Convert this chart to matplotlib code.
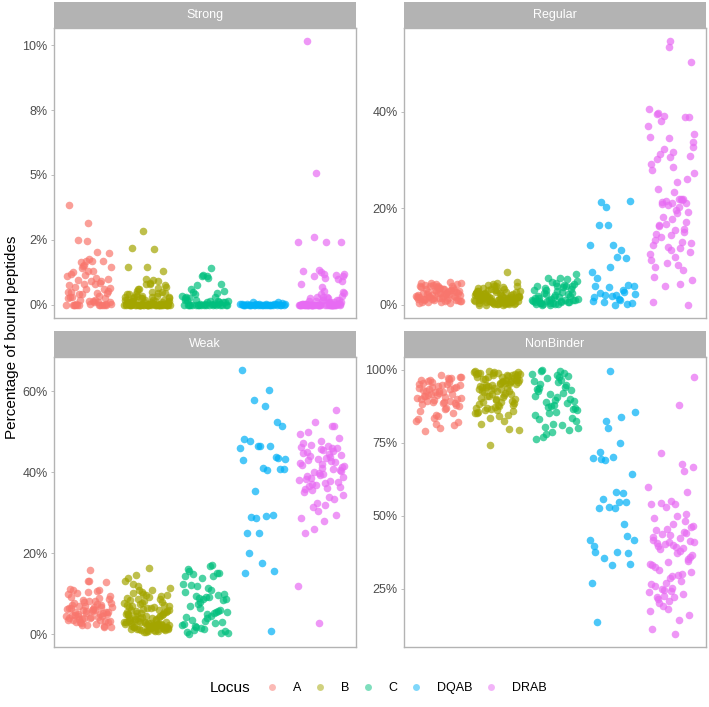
"""Jittered percentage of bound peptides per locus, faceted by binding class."""

import numpy as np
import matplotlib

matplotlib.use("Agg")
import matplotlib.pyplot as plt
from matplotlib.lines import Line2D

plt.rcParams["font.family"] = ["Liberation Sans", "DejaVu Sans"]

loci = ["A", "B", "C", "DQAB", "DRAB"]
locus_colors = ["#F8766D", "#A3A500", "#00BF7D", "#00B0F6", "#E76BF3"]
facets = ["Strong", "Regular", "Weak", "NonBinder"]

# values in percent
strong_A = [3.85, 3.15, 2.5, 2.45, 2.05, 2.0, 1.75, 1.7, 1.7, 1.7, 1.65, 1.55, 1.5, 1.45, 1.4,
            1.3, 1.3, 1.25, 1.2, 1.15, 1.1, 1.05, 1.0, 0.95, 0.9, 0.9, 0.85, 0.8, 0.8, 0.75,
            0.7, 0.65, 0.6, 0.6, 0.55, 0.5, 0.5, 0.45, 0.45, 0.4, 0.4, 0.35, 0.3, 0.3, 0.25,
            0.25, 0.2, 0.2, 0.15, 0.15, 0.1, 0.1, 0.1, 0.05, 0.05, 0.05, 0.05, 0, 0, 0, 0, 0,
            0, 0, 0, 0, 0, 0]
strong_B = [2.85, 2.2, 2.15, 1.45, 1.45, 1.3, 1.0, 0.95, 0.9, 0.85, 0.8, 0.8, 0.75, 0.7, 0.65,
            0.6, 0.6, 0.55, 0.5, 0.5, 0.45, 0.45, 0.4, 0.4, 0.4, 0.35, 0.35, 0.35, 0.3, 0.3,
            0.3, 0.3, 0.25, 0.25, 0.25, 0.25, 0.2, 0.2, 0.2, 0.2, 0.2, 0.15, 0.15, 0.15, 0.15,
            0.15, 0.1, 0.1, 0.1, 0.1, 0.1, 0.1, 0.05, 0.05, 0.05, 0.05, 0.05, 0.05, 0.05, 0, 0,
            0, 0, 0, 0, 0, 0, 0, 0, 0, 0, 0, 0, 0, 0, 0, 0, 0, 0, 0, 0, 0, 0, 0, 0, 0, 0, 0, 0,
            0, 0, 0, 0, 0, 0]
strong_C = [1.4, 1.15, 1.1, 1.1, 1.05, 0.8, 0.75, 0.6, 0.55, 0.5, 0.45, 0.4, 0.35, 0.3, 0.3,
            0.25, 0.25, 0.2, 0.2, 0.2, 0.15, 0.15, 0.15, 0.1, 0.1, 0.1, 0.1, 0.05, 0.05, 0.05,
            0.05, 0.05, 0, 0, 0, 0, 0, 0, 0, 0, 0, 0, 0, 0, 0, 0, 0, 0, 0, 0]
strong_DQAB = [0.1, 0.1, 0.08, 0.05, 0.05, 0.05, 0.04, 0.03, 0.03, 0.02, 0.02, 0.02, 0.01, 0.01,
               0, 0, 0, 0, 0, 0, 0, 0, 0, 0, 0, 0, 0, 0, 0, 0, 0, 0, 0, 0]
strong_DRAB = [10.15, 5.07, 2.6, 2.4, 2.4, 2.4, 1.35, 1.3, 1.25, 1.2, 1.2, 1.15, 1.1, 1.1, 1.05,
               1.0, 0.9, 0.8, 0.7, 0.55, 0.5, 0.45, 0.4, 0.35, 0.3, 0.3, 0.3, 0.25, 0.25, 0.2,
               0.2, 0.2, 0.15, 0.15, 0.15, 0.1, 0.1, 0.1, 0.1, 0.05, 0.05, 0.05, 0.05, 0.05,
               0.05, 0, 0, 0, 0, 0, 0, 0, 0, 0, 0, 0, 0, 0, 0, 0, 0, 0, 0, 0, 0, 0, 0, 0, 0, 0,
               0, 0, 0, 0, 0, 0, 0, 0, 0, 0, 0, 0, 0]

regular_A = [4.8, 4.6, 4.5, 4.5, 4.4, 4.3, 4.2, 4.1, 4.0, 4.0, 3.9, 3.8, 3.7, 3.6, 3.5, 3.5, 3.4,
             3.3, 3.2, 3.2, 3.1, 3.0, 3.0, 2.9, 2.8, 2.8, 2.7, 2.7, 2.6, 2.5, 2.5, 2.4, 2.4, 2.3,
             2.3, 2.2, 2.2, 2.1, 2.0, 2.0, 1.9, 1.9, 1.8, 1.8, 1.7, 1.7, 1.6, 1.6, 1.5, 1.5, 1.4,
             1.4, 1.3, 1.3, 1.2, 1.2, 1.1, 1.0, 1.0, 0.9, 0.9, 0.8, 0.8, 0.7, 0.6, 0.5, 0.5, 0.4,
             0.3]
regular_B = [6.9, 4.8, 4.6, 4.4, 4.2, 4.0, 3.9, 3.8, 3.6, 3.5, 3.4, 3.3, 3.2, 3.1, 3.0, 3.0, 2.9,
             2.8, 2.8, 2.7, 2.6, 2.6, 2.5, 2.5, 2.4, 2.4, 2.3, 2.3, 2.2, 2.2, 2.1, 2.1, 2.0, 2.0,
             1.9, 1.9, 1.8, 1.8, 1.8, 1.7, 1.7, 1.6, 1.6, 1.6, 1.5, 1.5, 1.5, 1.4, 1.4, 1.4, 1.3,
             1.3, 1.3, 1.2, 1.2, 1.2, 1.1, 1.1, 1.1, 1.0, 1.0, 1.0, 0.9, 0.9, 0.9, 0.8, 0.8, 0.8,
             0.7, 0.7, 0.7, 0.6, 0.6, 0.6, 0.5, 0.5, 0.5, 0.4, 0.4, 0.4, 0.3, 0.3, 0.3, 0.2, 0.2,
             0.2, 0.1, 0.1, 0.1, 0.0, 0.0, 0.0]
regular_C = [6.3, 5.6, 5.5, 5.3, 5.0, 4.8, 4.6, 4.4, 4.2, 4.0, 4.0, 4.0, 3.8, 3.6, 3.4, 3.2, 3.0,
             3.0, 2.8, 2.6, 2.5, 2.4, 2.3, 2.2, 2.0, 1.9, 1.8, 1.7, 1.6, 1.5, 1.4, 1.3, 1.2, 1.1,
             1.0, 1.0, 0.9, 0.9, 0.8, 0.8, 0.7, 0.7, 0.6, 0.6, 0.5, 0.5, 0.4, 0.4, 0.3, 0.3, 0.2,
             0.2, 0.1, 0.1, 0.0, 0.0]
regular_DQAB = [21.6, 21.2, 20.2, 16.6, 16.6, 12.4, 12.3, 11.4, 9.8, 9.6, 7.8, 6.9, 5.6, 4.1, 4.0,
                3.9, 3.6, 3.0, 2.7, 2.5, 2.3, 2.1, 2.0, 1.9, 1.6, 1.2, 1.0, 0.8, 0.5, 0.4, 0.2,
                0.0]
regular_DRAB = [54.6, 53.3, 50.2, 40.6, 39.8, 39.6, 39.2, 38.9, 38.8, 38.1, 37.1, 35.4, 34.7, 34.5,
                33.7, 32.6, 32.3, 31.6, 31.2, 30.9, 30.6, 30.1, 29.2, 28.5, 28.0, 27.2, 26.1, 25.4,
                23.9, 23.4, 22.0, 22.0, 22.0, 21.8, 21.5, 21.3, 21.1, 21.0, 20.9, 20.7, 20.3, 19.6,
                19.2, 19.0, 18.2, 17.7, 17.2, 16.8, 16.5, 16.3, 15.8, 15.5, 15.1, 14.6, 14.4, 14.1,
                13.4, 13.0, 12.7, 12.3, 12.0, 11.7, 11.4, 11.0, 10.5, 10.0, 9.3, 8.6, 8.2, 7.9,
                7.2, 5.8, 5.2, 4.3, 3.8, 0.5, 0.0]

weak_A = [15.8, 13.2, 13.1, 12.9, 11.2, 11.0, 10.8, 10.7, 10.5, 10.3, 10.0, 9.5, 9.2, 9.0, 8.8,
          8.5, 8.3, 8.2, 8.0, 7.8, 7.6, 7.5, 7.3, 7.2, 7.0, 6.9, 6.8, 6.7, 6.6, 6.5, 6.4, 6.3, 6.2,
          6.1, 6.0, 5.9, 5.8, 5.7, 5.6, 5.5, 5.4, 5.3, 5.2, 5.1, 5.0, 4.9, 4.8, 4.7, 4.6, 4.5, 4.4,
          4.3, 4.2, 4.1, 4.0, 3.9, 3.8, 3.7, 3.6, 3.5, 3.4, 3.3, 3.2, 3.1, 3.0, 2.9, 2.8, 2.6, 2.4,
          2.2, 2.0, 1.9, 1.8]
weak_B = [16.4, 14.6, 13.8, 13.2, 12.3, 11.8, 11.3, 11.0, 10.8, 10.5, 10.2, 10.0, 9.8, 9.6, 9.4,
          9.2, 9.0, 8.8, 8.6, 8.4, 8.2, 8.0, 7.8, 7.6, 7.5, 7.3, 7.2, 7.0, 6.9, 6.8, 6.6, 6.5, 6.4,
          6.2, 6.1, 6.0, 5.9, 5.8, 5.7, 5.6, 5.5, 5.4, 5.3, 5.2, 5.1, 5.0, 4.9, 4.8, 4.7, 4.6, 4.5,
          4.4, 4.3, 4.2, 4.1, 4.0, 3.9, 3.8, 3.7, 3.6, 3.5, 3.4, 3.3, 3.2, 3.1, 3.0, 3.0, 2.9, 2.9,
          2.8, 2.8, 2.7, 2.7, 2.6, 2.6, 2.5, 2.5, 2.4, 2.4, 2.3, 2.3, 2.2, 2.2, 2.1, 2.1, 2.0, 2.0,
          1.9, 1.9, 1.8, 1.8, 1.7, 1.7, 1.6, 1.6, 1.5, 1.5, 1.4, 1.4, 1.3, 1.3, 1.2, 1.2, 1.1, 1.1,
          1.0, 1.0, 0.9, 0.8, 0.7, 0.6, 0.5]
weak_C = [17.0, 16.8, 16.2, 15.5, 15.2, 15.0, 14.8, 14.5, 14.3, 14.0, 12.5, 12.2, 12.0, 11.5, 11.0,
          10.5, 10.0, 9.8, 9.5, 9.3, 9.2, 9.0, 8.8, 8.6, 8.4, 8.0, 7.5, 7.0, 6.5, 6.0, 5.8, 5.6,
          5.5, 5.3, 5.0, 4.5, 4.2, 4.0, 3.5, 3.2, 3.0, 2.8, 2.5, 2.2, 2.0, 1.8, 1.5, 1.2, 1.0, 0.8,
          0.6, 0.3, 0.2, 0.1]
weak_DQAB = [65.2, 60.4, 57.9, 56.4, 52.3, 51.3, 48.1, 47.8, 46.4, 46.4, 46.4, 46.0, 43.7, 43.5,
             43.2, 43.0, 41.1, 40.9, 40.7, 40.5, 35.4, 29.5, 29.3, 28.9, 28.6, 25.1, 25.0, 20.0,
             17.5, 15.6, 15.0, 0.7]
weak_DRAB = [55.4, 52.3, 51.5, 51.4, 50.0, 49.5, 48.4, 47.6, 47.2, 46.8, 46.5, 46.3, 46.1, 46.0,
             45.8, 45.5, 45.3, 45.0, 44.8, 44.5, 44.2, 44.0, 43.8, 43.5, 43.3, 43.0, 42.8, 42.5,
             42.3, 42.0, 41.8, 41.5, 41.3, 41.0, 40.8, 40.5, 40.3, 40.0, 39.8, 39.5, 39.3, 39.0,
             38.8, 38.5, 38.3, 38.0, 37.8, 37.5, 37.3, 37.0, 36.8, 36.5, 36.3, 36.0, 35.8, 35.5,
             35.0, 34.5, 34.0, 33.5, 32.5, 32.0, 31.5, 30.5, 29.5, 28.8, 28.0, 26.0, 25.0, 12.0,
             2.8]

nonbinder_A = [98.0, 97.6, 97.4, 97.2, 97.0, 96.8, 96.5, 96.3, 96.0, 95.8, 95.6, 95.4, 95.2, 95.0,
               94.8, 94.6, 94.4, 94.2, 94.0, 93.8, 93.6, 93.4, 93.2, 93.0, 92.8, 92.6, 92.4, 92.2,
               92.0, 91.8, 91.6, 91.4, 91.2, 91.0, 90.8, 90.6, 90.4, 90.2, 90.0, 89.8, 89.6, 89.4,
               89.2, 89.0, 88.8, 88.6, 88.4, 88.2, 88.0, 87.5, 87.0, 86.5, 85.8, 85.2, 84.5, 84.0,
               83.5, 83.0, 82.5, 82.0, 81.5, 81.0, 80.0, 79.0]
nonbinder_B = [99.5, 99.4, 99.3, 99.2, 99.1, 99.0, 98.9, 98.8, 98.7, 98.6, 98.5, 98.4, 98.3, 98.2,
               98.1, 98.0, 97.8, 97.6, 97.5, 97.4, 97.2, 97.0, 96.9, 96.8, 96.6, 96.5, 96.4, 96.2,
               96.0, 95.9, 95.8, 95.6, 95.5, 95.4, 95.2, 95.0, 94.9, 94.8, 94.6, 94.5, 94.4, 94.2,
               94.0, 93.8, 93.6, 93.5, 93.3, 93.0, 92.8, 92.6, 92.5, 92.2, 92.0, 91.8, 91.5, 91.2,
               91.0, 90.8, 90.5, 90.2, 90.0, 89.8, 89.5, 89.2, 89.0, 88.8, 88.5, 88.2, 88.0, 87.8,
               87.5, 87.2, 87.0, 86.8, 86.5, 86.2, 86.0, 85.8, 85.5, 85.2, 85.0, 84.5, 84.2, 83.5,
               82.5, 81.5, 79.8, 79.4, 74.3]
nonbinder_C = [99.8, 99.5, 99.4, 99.0, 98.6, 98.2, 97.8, 97.5, 97.0, 96.5, 96.2, 95.8, 95.2, 94.8,
               94.2, 93.8, 93.5, 93.0, 92.6, 92.0, 91.5, 91.0, 90.5, 90.0, 89.6, 89.2, 88.8, 88.4,
               88.0, 87.6, 87.2, 86.8, 86.4, 86.0, 85.5, 85.0, 84.5, 83.5, 83.0, 82.3, 81.5, 81.0,
               80.5, 80.0, 79.2, 78.5, 77.8, 77.0, 76.3]
nonbinder_DQAB = [99.6, 85.4, 83.8, 82.5, 80.0, 75.0, 71.7, 70.0, 69.8, 69.5, 69.0, 64.4, 58.0,
                  57.7, 55.8, 54.5, 54.5, 53.0, 52.7, 52.5, 47.0, 43.0, 41.8, 41.6, 39.7, 37.4,
                  37.4, 37.2, 35.5, 33.5, 33.2, 26.8, 13.7]
nonbinder_DRAB = [97.6, 87.9, 71.3, 67.7, 66.5, 65.4, 59.9, 58.2, 55.1, 54.2, 54.0, 53.8, 52.8,
                  50.6, 49.7, 49.2, 48.3, 47.2, 46.5, 46.0, 45.4, 44.9, 44.5, 44.0, 43.7, 43.2,
                  42.6, 42.2, 41.8, 41.4, 41.0, 40.8, 40.5, 40.2, 40.0, 39.7, 39.3, 38.9, 38.6,
                  38.0, 37.1, 36.5, 35.7, 35.2, 34.6, 34.0, 33.5, 33.0, 32.3, 31.5, 30.6, 30.0,
                  29.5, 29.2, 28.5, 27.7, 27.0, 26.4, 25.8, 25.3, 24.9, 24.5, 24.0, 23.7, 23.0,
                  22.5, 22.0, 22.0, 21.5, 20.9, 20.0, 19.0, 18.0, 17.2, 15.8, 14.3, 11.2, 9.5]

facet_values = {
    "Strong": [strong_A, strong_B, strong_C, strong_DQAB, strong_DRAB],
    "Regular": [regular_A, regular_B, regular_C, regular_DQAB, regular_DRAB],
    "Weak": [weak_A, weak_B, weak_C, weak_DQAB, weak_DRAB],
    "NonBinder": [nonbinder_A, nonbinder_B, nonbinder_C, nonbinder_DQAB, nonbinder_DRAB],
}
facet_ticks = {
    "Strong": [0, 2.5, 5, 7.5, 10],
    "Regular": [0, 20, 40],
    "Weak": [0, 20, 40, 60],
    "NonBinder": [25, 50, 75, 100],
}
facet_tick_labels = {
    "Strong": ["0%", "2%", "5%", "8%", "10%"],
    "Regular": ["0%", "20%", "40%"],
    "Weak": ["0%", "20%", "40%", "60%"],
    "NonBinder": ["25%", "50%", "75%", "100%"],
}

W, H = 709, 707
fig = plt.figure(figsize=(W / 100, H / 100), dpi=100)

# panel boxes in pixels: (left, top)
panel_w, panel_h, strip_h = 302, 290, 26
panel_pos = {"Strong": (54, 28), "Regular": (404, 28), "Weak": (54, 357), "NonBinder": (404, 357)}


def jitter(n, phase):
    # evenly covering offsets in [-0.4, 0.4], handed out in a scrambled order
    k = np.arange(n)
    spread = (k * 0.6180339887 + 0.5) % 1.0
    h = np.sin((k + 1) * 12.9898 + phase * 78.233) * 43758.5453
    order = np.argsort(h - np.floor(h))
    return (spread[order] - 0.5) * 0.8


for fi, f in enumerate(facets):
    left, top = panel_pos[f]
    ax = fig.add_axes([left / W, 1 - (top + panel_h) / H, panel_w / W, panel_h / H])
    for i, (vals, col) in enumerate(zip(facet_values[f], locus_colors)):
        y = np.array(vals, dtype=float)
        x = i + 1 + jitter(len(y), fi * 5 + i + 1)
        ax.scatter(x, y, s=30, color=col, alpha=0.7, linewidths=0, zorder=2)
    ax.set_xlim(0.4, 5.6)
    ax.margins(y=0.05)
    ax.set_xticks([])
    ax.set_yticks(facet_ticks[f])
    ax.set_yticklabels(facet_tick_labels[f])
    ax.tick_params(axis="y", length=2.5, width=0.6, color="#B3B3B3", labelsize=9,
                   labelcolor="#4D4D4D", pad=2)
    for sp in ax.spines.values():
        sp.set_color("#B3B3B3")
        sp.set_linewidth(1.0)

    sax = fig.add_axes([left / W, 1 - top / H, panel_w / W, strip_h / H])
    sax.set_facecolor("#B3B3B3")
    sax.set_xticks([])
    sax.set_yticks([])
    for sp in sax.spines.values():
        sp.set_visible(False)
    sax.text(0.5, 0.5, f, color="white", fontsize=9, ha="center", va="center",
             transform=sax.transAxes)

fig.text(12 / W, 1 - 337 / H, "Percentage of bound peptides", rotation=90, fontsize=11,
         ha="center", va="center")

# legend along the bottom
fig.text(210 / W, 1 - 688 / H, "Locus", fontsize=11, ha="left", va="center")
handles = [Line2D([], [], marker="o", linestyle="", markersize=5, markerfacecolor=c,
                  markeredgewidth=0, alpha=0.5) for c in locus_colors]
fig.legend(handles, loci, loc="center left", bbox_to_anchor=(266 / W, 1 - 688 / H), ncol=5,
           frameon=False, fontsize=9, handlelength=1.0, handletextpad=1.15, columnspacing=1.0,
           borderpad=0, borderaxespad=0)

fig.savefig("out.png", dpi=100)
